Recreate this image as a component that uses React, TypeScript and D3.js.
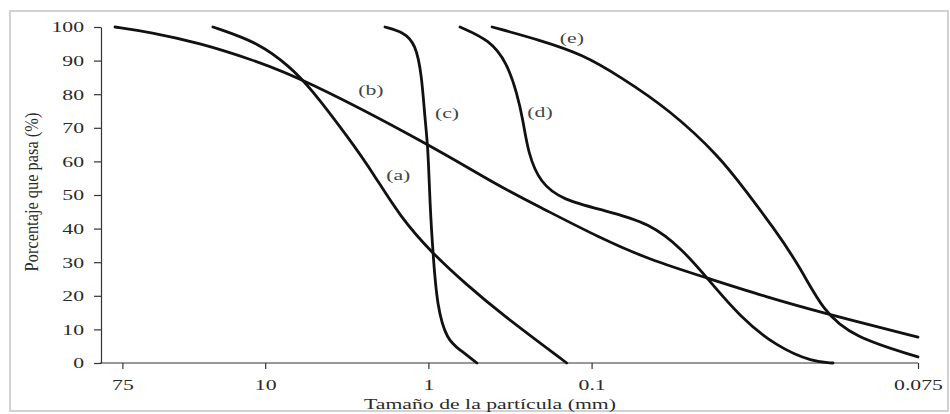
import React, {useEffect, useRef} from 'react';
import * as d3 from 'd3';

// x axis: particle size (mm), log scale, largest on the left
const xTickValues = [75, 10, 1, 0.1, 0.001];
const xTickLabels = ['75', '10', '1', '0.1', '0.075'];
const yTickValues = [0, 10, 20, 30, 40, 50, 60, 70, 80, 90, 100];

// curve (a)
const aSize = [20.9, 10.8, 7.05, 5.31, 3.02, 2.18, 1.49, 0.95, 0.58, 0.364, 0.142];
const aPct = [100, 95.2, 88.1, 82.1, 66.4, 56.5, 43.5, 32.7, 23.2, 14.9, 0];
// curve (b)
const bSize = [83.2, 50.8, 25.1, 12.4, 5.95, 0.977, 0.364, 0.207, 0.0889, 0.0439, 0.0196, 0.00842, 0.00382, 0.001];
const bPct = [100, 98.5, 95.2, 90.5, 84.8, 64.9, 52.4, 46.4, 37.2, 30.7, 25.3, 19.6, 14.9, 7.7];
// curve (c)
const cSize = [1.845, 1.42, 1.2, 1.1, 1.049, 1.005, 0.977, 0.937, 0.885, 0.769, 0.64, 0.504];
const cPct = [100, 98.5, 95, 86, 72.3, 64.3, 46.4, 32.7, 16.7, 6.8, 3.9, 0];
// curve (d)
const dSize = [0.64, 0.42, 0.33, 0.287, 0.263, 0.245, 0.207, 0.15, 0.085, 0.0439, 0.0275, 0.0196, 0.01233, 0.00731, 0.0044, 0.00332];
const dPct = [100, 96.1, 89.3, 80.4, 72.3, 62.5, 53.6, 48.5, 45.5, 41.7, 33.6, 25.3, 13.7, 4.8, 0.3, 0];
// curve (e)
const eSize = [0.407, 0.207, 0.113, 0.0672, 0.0331, 0.01633, 0.01148, 0.00773, 0.00528, 0.00382, 0.0025, 0.001];
const ePct = [100, 96.1, 91.8, 85.3, 75.3, 61.3, 51.5, 40.5, 28.6, 15.5, 7.7, 1.8];

const curveSizes = [aSize, bSize, cSize, dSize, eSize];
const curvePcts = [aPct, bPct, cPct, dPct, ePct];

// curve labels
const labelNames = ['(a)', '(b)', '(c)', '(d)', '(e)'];
const labelSize = [1.53, 2.25, 0.769, 0.207, 0.132];
const labelPct = [56, 81.3, 74.4, 74.7, 96.8];

const SERIF = '"Liberation Serif", "Times New Roman", serif';
const STRETCH = 1.45;

const App = () => {
    const svgRef = useRef(null);

    useEffect(() => {
        const svg = d3.select(svgRef.current);
        svg.selectAll('*').remove();

        const x = d3.scaleLog().domain([100, 0.001]).range([102, 918]);
        const y = d3.scaleLinear().domain([0, 100]).range([363, 27]);

        // frame around the picture
        svg.append('rect')
            .attr('x', 10)
            .attr('y', 11)
            .attr('width', 938)
            .attr('height', 400)
            .attr('fill', 'white')
            .attr('stroke', '#d2d2d2')
            .attr('stroke-width', 2);

        // y axis
        const yAxis = svg.append('g')
            .attr('transform', 'translate(101,0)')
            .call(d3.axisLeft(y).tickValues(yTickValues).tickSize(7).tickSizeOuter(0));
        yAxis.selectAll('path, line').attr('stroke', '#333').attr('stroke-width', 1.2);
        yAxis.selectAll('text')
            .attr('x', -17 / STRETCH)
            .attr('transform', `scale(${STRETCH},1)`)
            .attr('font-family', SERIF)
            .attr('font-size', 15)
            .attr('fill', '#2a2a2a');

        // x axis
        const xAxis = svg.append('g')
            .attr('transform', 'translate(0,363)')
            .call(
                d3.axisBottom(x)
                    .tickValues(xTickValues)
                    .tickFormat((d, i) => xTickLabels[i])
                    .tickSize(6)
                    .tickSizeOuter(0)
            );
        xAxis.select('.domain').attr('d', 'M100,0H918');
        xAxis.selectAll('path, line').attr('stroke', '#333').attr('stroke-width', 1.2);
        xAxis.selectAll('text')
            .attr('y', 27)
            .attr('dy', null)
            .attr('transform', `scale(${STRETCH},1)`)
            .attr('font-family', SERIF)
            .attr('font-size', 15)
            .attr('fill', '#2a2a2a');

        // axis titles
        svg.append('text')
            .attr('transform', `translate(490,409) scale(${STRETCH},1)`)
            .attr('text-anchor', 'middle')
            .attr('font-family', SERIF)
            .attr('font-size', 15)
            .attr('fill', '#2a2a2a')
            .text('Tamaño de la partícula (mm)');

        svg.append('text')
            .attr('transform', 'translate(38,192) rotate(-90) scale(1,1.15)')
            .attr('text-anchor', 'middle')
            .attr('font-family', SERIF)
            .attr('font-size', 16.4)
            .attr('fill', '#2a2a2a')
            .text('Porcentaje que pasa (%)');

        // curves
        const line = d3.line()
            .x((d) => x(d[0]))
            .y((d) => y(d[1]))
            .curve(d3.curveBasis);

        curveSizes.forEach((sizes, k) => {
            const pts = sizes.map((s, i) => [s, curvePcts[k][i]]);
            svg.append('path')
                .datum(pts)
                .attr('d', line)
                .attr('fill', 'none')
                .attr('stroke', '#111')
                .attr('stroke-width', 2.8)
                .attr('stroke-linecap', 'round');
        });

        // curve labels
        labelNames.forEach((name, i) => {
            svg.append('text')
                .attr('transform', `translate(${x(labelSize[i])},${y(labelPct[i])}) scale(${STRETCH},1)`)
                .attr('text-anchor', 'middle')
                .attr('dy', '0.35em')
                .attr('font-family', SERIF)
                .attr('font-size', 15)
                .attr('fill', '#444')
                .text(name);
        });
    }, []);

    return (
        <svg
            ref={svgRef}
            width={950}
            height={414}
            style={{position: 'absolute', left: 0, top: 0, background: 'white'}}
        />
    );
};

export default App;
